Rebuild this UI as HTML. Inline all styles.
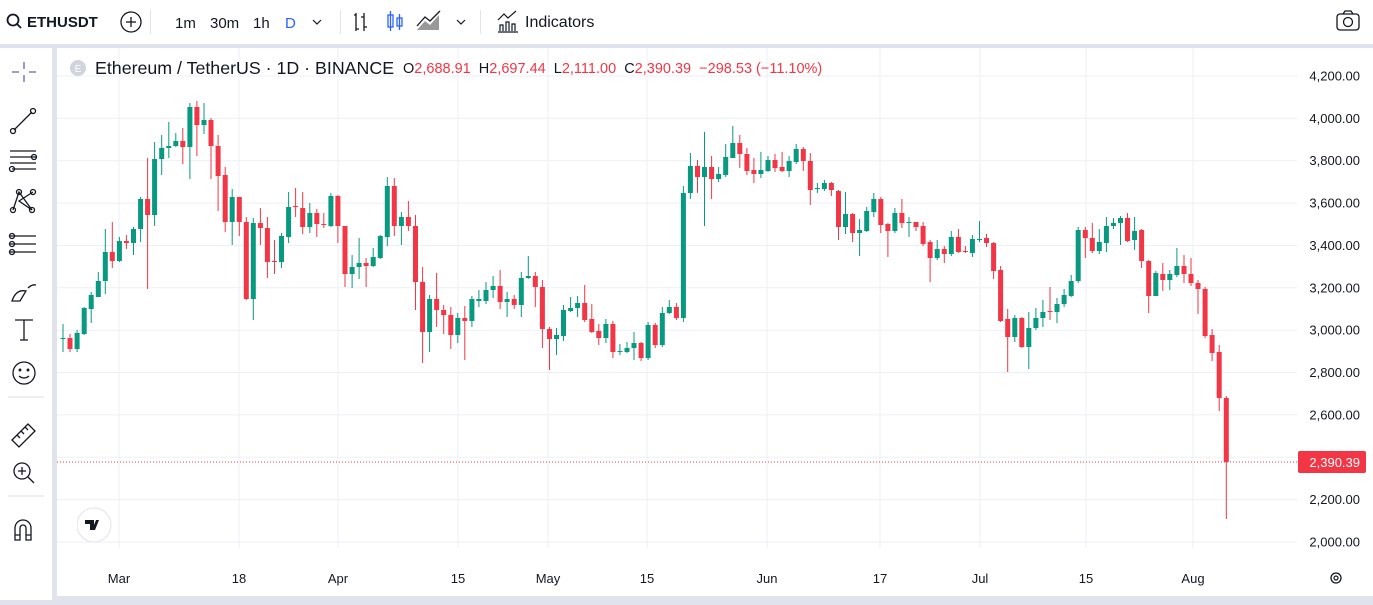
<!DOCTYPE html>
<html><head><meta charset="utf-8"><style>
html,body{margin:0;padding:0;width:1373px;height:600px;overflow:hidden;background:#e0e3eb;font-family:"Liberation Sans",sans-serif;}
#top{position:absolute;left:0;top:0;width:1373px;height:44px;background:#fff;}
#left{position:absolute;left:0;top:48px;width:52px;height:552px;background:#fff;}
#main{position:absolute;left:57px;top:48px;width:1316px;height:548px;background:#fff;}
.t{position:absolute;font-size:15px;color:#131722;white-space:nowrap;}
.sep{position:absolute;top:10px;width:1px;height:24px;background:#e0e3eb;}
</style></head><body>
<div id="top">
<svg width="1373" height="44" style="position:absolute;left:0;top:0">
<circle cx="13" cy="20" r="5.5" fill="none" stroke="#131722" stroke-width="1.8"/><line x1="17" y1="24" x2="21" y2="28" stroke="#131722" stroke-width="1.8"/>
<circle cx="131" cy="22" r="10" fill="none" stroke="#131722" stroke-width="1.3"/><line x1="126" y1="22" x2="136" y2="22" stroke="#131722" stroke-width="1.3"/><line x1="131" y1="17" x2="131" y2="27" stroke="#131722" stroke-width="1.3"/>
<path d="M313 20 l4 4 l4 -4" fill="none" stroke="#131722" stroke-width="1.2"/>
<path d="M457 20 l4 4 l4 -4" fill="none" stroke="#131722" stroke-width="1.2"/>
<path d="M356 13 v18 M356 15 h-2 M356 29 h3 M364 13 v18 M364 17 h-3 M364 27 h3" fill="none" stroke="#131722" stroke-width="1.3"/>
<rect x="388" y="15" width="5" height="12" fill="none" stroke="#2962ff" stroke-width="1.3"/><line x1="390.5" y1="11" x2="390.5" y2="31" stroke="#2962ff" stroke-width="1.3"/>
<rect x="397" y="18" width="5" height="8" fill="none" stroke="#2962ff" stroke-width="1.3"/><line x1="399.5" y1="14" x2="399.5" y2="30" stroke="#2962ff" stroke-width="1.3"/>
<path d="M417 30 l8 -9 l5 4 l9 -10 v15 z" fill="#999"/><path d="M417 26 l8 -9 l5 4 l10 -10" fill="none" stroke="#131722" stroke-width="1.3"/>
<path d="M498 32 h20 M500 31 v-6 h3 v6 M506 31 v-9 h3 v9 M512 31 v-7 h3 v7 M498 20 l6 -6 l4 4 l8 -7" fill="none" stroke="#131722" stroke-width="1.2"/>
<rect x="1337" y="14" width="22" height="16" rx="3" fill="none" stroke="#131722" stroke-width="1.3"/><path d="M1343 14 l2 -3 h6 l2 3" fill="none" stroke="#131722" stroke-width="1.3"/><circle cx="1348" cy="22" r="4.5" fill="none" stroke="#131722" stroke-width="1.3"/>
</svg>
<div class="t" style="left:27px;top:14px;font-weight:bold;font-size:15px">ETHUSDT</div>
<div class="sep" style="left:150px"></div>
<div class="t" style="left:175px;top:15px">1m</div>
<div class="t" style="left:210px;top:15px">30m</div>
<div class="t" style="left:253px;top:15px">1h</div>
<div class="t" style="left:285px;top:15px;color:#2962ff">D</div>
<div class="sep" style="left:340px"></div>
<div class="sep" style="left:480px"></div>
<div class="t" style="left:525px;top:14px;font-size:16px">Indicators</div>
</div>
<div id="left">
<svg width="52" height="552" fill="none" stroke="#131722" stroke-width="1.3">
<path d="M24 14 v7 M24 27 v7 M12 24 h7 M29 24 h7" stroke="#5d6aa0"/>
<path d="M14 82 l18 -18"/><circle cx="13" cy="83" r="2.5"/><circle cx="33" cy="63" r="2.5"/>
<path d="M10 103 h26 M10 109 h26 M10 115 h26 M12 121 h24"/><circle cx="34" cy="109" r="2.5"/><circle cx="12" cy="121" r="2.5"/>
<path d="M13 162 l6 -18 l13 18 l-13 -9 l14 -9"/><circle cx="13" cy="162" r="2.5"/><circle cx="19" cy="144" r="2.5"/><circle cx="32" cy="162" r="2.5"/><circle cx="33" cy="144" r="2.5"/>
<path d="M10 188 h26 M10 196 h26 M10 204 h26"/><circle cx="12" cy="188" r="2.5"/><circle cx="12" cy="196" r="2.5"/><circle cx="12" cy="204" r="2.5"/>
<path d="M12 253 q4 -12 14 -10 l-6 10 z M28 240 q4 -4 8 -3"/>
<path d="M15 272 h18 M24 272 v20 M20 292 h8"/>
<circle cx="24" cy="325" r="11"/><circle cx="20" cy="322" r="0.8" fill="#131722"/><circle cx="28" cy="322" r="0.8" fill="#131722"/><path d="M19 328 q5 4 10 0"/>
</svg>
<svg width="52" height="552" style="position:absolute;left:0;top:0" fill="none" stroke="#131722" stroke-width="1.3">
<line x1="8" y1="349" x2="44" y2="349" stroke="#e0e3eb"/>
<path d="M12 392 l16 -16 l7 7 l-16 16 z M17 387 l3 3 M21 383 l3 3 M25 379 l3 3"/>
<circle cx="22" cy="423" r="8"/><path d="M28 429 l6 6 M18 423 h8 M22 419 v8"/>
<line x1="8" y1="448" x2="44" y2="448" stroke="#e0e3eb"/>
<path d="M15 492 v-12 a8 8 0 0 1 16 0 v12 h-5 v-12 a3 3 0 0 0 -6 0 v12 z M15 487 h5 M26 487 h5"/>
</svg>
</div>
<div id="main">
<svg id="ch" width="1316" height="548" style="position:absolute;left:0;top:0"></svg>
<svg width="40" height="40" style="position:absolute;left:20px;top:459px"><circle cx="17" cy="18" r="17" fill="#fff" stroke="#e0e3eb"/><path d="M8 13 h9 v10 h-4 v-6 h-5 z M19 13 h3 l-4 10 h-3 z" fill="#131722"/></svg>
<svg width="18" height="18" style="position:absolute;left:12px;top:11px"><circle cx="9" cy="9" r="8" fill="#d1d4dc"/><text x="9" y="13" font-size="10" fill="#fff" text-anchor="middle" font-family="Liberation Sans">E</text></svg>
<div class="t" style="left:38px;top:10px;font-size:17.8px">Ethereum / TetherUS · 1D · BINANCE</div>
<div class="t" style="left:346px;top:13px;font-size:14.5px">O<span style="color:#f23645">2,688.91</span> &nbsp;H<span style="color:#f23645">2,697.44</span> &nbsp;L<span style="color:#f23645">2,111.00</span> &nbsp;C<span style="color:#f23645">2,390.39</span> &nbsp;<span style="color:#f23645">−298.53 (−11.10%)</span></div>
</div>
<script>
var d=[
[338,339,324,352,'g'],[338,349,334,352,'r'],[333,349,330,352,'g'],[308,334,307,335,'g'],[295,309,292,323,'g'],[281,297,272,297,'g'],[252,281,229,294,'g'],[252,261,222,268,'r'],[241,261,237,262,'g'],[241,243,235,249,'r'],
[229,243,227,255,'g'],[199,229,197,242,'g'],[199,215,158,289,'r'],[159,215,142,226,'g'],[148,159,135,175,'g'],[146,148,122,158,'g'],[141,146,133,147,'g'],[141,147,128,164,'r'],[107,147,103,179,'g'],[107,125,101,156,'r'],
[120,125,103,134,'g'],[120,146,118,179,'r'],[146,176,135,211,'r'],[175,222,167,232,'r'],[197,222,189,245,'g'],[197,222,197,236,'r'],[222,299,217,300,'r'],[223,299,218,320,'g'],[223,228,208,245,'r'],[228,262,217,278,'r'],
[261,262,240,274,'r'],[236,262,233,268,'g'],[207,237,192,243,'g'],[206,207,188,217,'r'],[208,227,192,234,'r'],[213,227,203,233,'g'],[213,224,209,237,'r'],[224,225,213,228,'r'],[196,226,193,227,'g'],[196,226,195,243,'r'],
[226,274,226,287,'r'],[267,274,255,288,'g'],[263,267,238,279,'g'],[263,266,258,287,'r'],[257,266,248,267,'g'],[236,258,235,259,'g'],[186,237,177,246,'g'],[186,226,178,236,'r'],[217,226,212,245,'g'],[217,226,201,231,'r'],
[226,282,215,310,'r'],[282,332,267,363,'r'],[299,332,295,352,'g'],[299,310,273,327,'r'],[310,315,305,334,'r'],[315,335,307,349,'r'],[318,335,313,343,'g'],[318,321,306,360,'r'],[299,321,296,327,'g'],[299,301,290,307,'g'],
[290,301,282,304,'g'],[286,290,276,298,'g'],[286,302,270,309,'r'],[299,302,292,317,'g'],[299,305,295,309,'r'],[278,305,272,317,'g'],[276,278,256,279,'g'],[276,287,272,307,'r'],[287,329,280,348,'r'],[329,339,327,370,'r'],
[335,339,328,355,'g'],[310,336,305,341,'g'],[308,311,297,312,'g'],[303,308,296,317,'g'],[303,320,285,322,'r'],[319,332,304,333,'r'],[331,338,324,345,'r'],[324,338,319,343,'g'],[324,352,321,358,'r'],[351,352,344,355,'g'],
[348,352,342,353,'g'],[343,348,332,360,'g'],[343,358,342,361,'r'],[325,358,322,360,'g'],[325,345,323,348,'r'],[313,345,307,347,'g'],[307,313,300,314,'g'],[307,318,303,320,'r'],[193,318,186,322,'g'],[166,193,153,199,'g'],
[166,177,160,193,'r'],[167,177,132,226,'g'],[167,179,156,199,'r'],[174,179,167,182,'g'],[157,175,144,177,'g'],[143,158,126,158,'g'],[143,154,135,168,'r'],[154,171,148,175,'r'],[170,174,158,183,'r'],[170,174,152,178,'g'],
[160,171,156,172,'g'],[160,168,154,172,'r'],[167,171,152,172,'r'],[161,171,156,177,'g'],[149,162,144,164,'g'],[149,161,147,171,'r'],[161,190,153,205,'r'],[188,189,183,193,'g'],[183,189,180,191,'g'],[183,190,182,196,'r'],
[191,227,190,240,'r'],[214,227,192,234,'g'],[214,233,213,242,'r'],[230,233,219,256,'g'],[211,231,207,232,'g'],[199,212,193,217,'g'],[199,225,197,233,'r'],[224,231,223,257,'r'],[213,231,208,233,'g'],[213,223,199,228,'r'],
[222,223,217,237,'g'],[222,227,222,231,'r'],[226,244,222,246,'r'],[242,258,240,282,'r'],[249,258,240,260,'g'],[249,254,246,263,'r'],[237,254,231,256,'g'],[237,252,229,253,'r'],[251,252,246,253,'r'],[239,253,235,257,'g'],
[239,240,221,242,'g'],[238,243,234,247,'r'],[243,271,242,279,'r'],[270,321,266,322,'r'],[319,337,309,372,'r'],[318,337,315,342,'g'],[318,347,317,348,'r'],[328,347,312,369,'g'],[318,328,308,330,'g'],[312,318,300,327,'g'],
[311,312,287,320,'r'],[304,312,298,323,'g'],[295,304,289,307,'g'],[281,296,275,297,'g'],[230,281,227,283,'g'],[230,238,227,258,'r'],[238,251,223,253,'r'],[242,251,229,254,'g'],[226,243,217,252,'g'],[223,226,218,229,'g'],
[218,223,216,245,'g'],[218,241,213,242,'r'],[231,240,217,250,'g'],[230,261,229,268,'r'],[261,296,260,313,'r'],[273,296,271,296,'g'],[274,280,263,291,'r'],[274,280,270,290,'g'],[266,275,248,277,'g'],[266,274,255,283,'r'],
[274,283,258,286,'r'],[283,289,280,314,'r'],[289,336,287,338,'r'],[335,353,329,361,'r'],[352,398,345,411,'r'],[398,462,396,519,'r']];
var OX=57,OY=48,s='';
var G='#089981',R='#f23645';
var prices=[4200,4000,3800,3600,3400,3200,3000,2800,2600,2400,2200,2000];
prices.forEach(function(p){var y=542-(p-2000)*0.21182-OY;s+='<line x1="0" x2="1240" y1="'+y.toFixed(1)+'" y2="'+y.toFixed(1)+'" stroke="#eceff5"/>';});
var xs=[119,239,338,458,548,647,767,880,980,1086,1193];
xs.forEach(function(x){s+='<line x1="'+(x-OX)+'" x2="'+(x-OX)+'" y1="0" y2="500" stroke="#eceff5"/>';});
d.forEach(function(c,i){var x=63+i*7.05-OX;var col=c[4]=='g'?G:R;
s+='<line x1="'+x.toFixed(1)+'" x2="'+x.toFixed(1)+'" y1="'+(c[2]-OY)+'" y2="'+(c[3]-OY)+'" stroke="'+col+'" stroke-width="1"/>';
var h=Math.max(1,c[1]-c[0]);s+='<rect x="'+(x-2.5).toFixed(1)+'" y="'+(c[0]-OY)+'" width="5" height="'+h+'" fill="'+col+'"/>';});
s+='<line x1="0" x2="1240" y1="'+(462-OY)+'" y2="'+(462-OY)+'" stroke="#f23645" stroke-dasharray="1,2"/>';
prices.forEach(function(p){if(p==2400)return;var y=542-(p-2000)*0.21182-OY;s+='<text x="1303" y="'+(y+4.5).toFixed(1)+'" font-size="13" text-anchor="end" fill="#131722" font-family="Liberation Sans">'+p.toLocaleString('en-US')+'.00</text>';});
s+='<rect x="1241" y="'+(451-OY)+'" width="68" height="22" rx="2" fill="#f23645"/><text x="1303" y="'+(467-OY)+'" font-size="13" text-anchor="end" fill="#fff" font-family="Liberation Sans">2,390.39</text>';
var lb=['Mar','18','Apr','15','May','15','Jun','17','Jul','15','Aug'];
lb.forEach(function(t,i){s+='<text x="'+(xs[i]-OX)+'" y="'+(583-OY)+'" font-size="13" text-anchor="middle" fill="#131722" font-family="Liberation Sans">'+t+'</text>';});
s+='<circle cx="'+(1336-OX)+'" cy="'+(578-OY)+'" r="5" fill="none" stroke="#131722" stroke-width="1.3"/><circle cx="'+(1336-OX)+'" cy="'+(578-OY)+'" r="2" fill="none" stroke="#131722" stroke-width="1.2"/>';
document.getElementById('ch').innerHTML=s;
</script>
</body></html>
